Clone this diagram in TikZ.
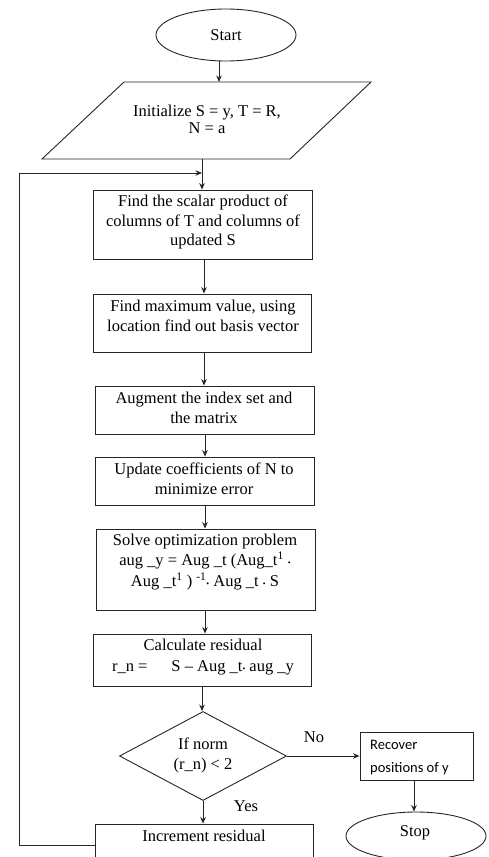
\documentclass[tikz,border=0pt]{standalone}
\usepackage{fontspec}
\setmainfont{Liberation Serif}
\newfontfamily\calfont{Carlito}
\usetikzlibrary{shapes.geometric,arrows.meta}
\tikzset{
  shp/.style={draw=black!85, line width=0.9pt, inner sep=0pt},
  boxn/.style={shp, rectangle},
  txt/.style={align=center, inner sep=0pt, font=\fontsize{16.5}{19.5}\selectfont},
  arr/.style={draw=black!85, line width=0.9pt, -{Stealth[length=6.5pt,width=5.5pt]}},
  ln/.style={draw=black!85, line width=0.9pt},
}
\newcommand{\mydot}{{\footnotesize\textbullet}}
\begin{document}
\begin{tikzpicture}[x=1pt,y=-1pt]
\useasboundingbox (0,0) rectangle (488,857);
\clip (0,0) rectangle (488,857);
\fill[white] (0,0) rectangle (488,857);

% Start
\node[shp, ellipse, minimum width=140pt, minimum height=52pt, font=\fontsize{16.5}{19.5}\selectfont] (start) at (226,35) {Start};

% Initialize parallelogram
\coordinate (p1) at (124,82);
\coordinate (p2) at (371,82);
\coordinate (p3) at (290,159);
\coordinate (p4) at (42,159);
\draw[ln] (p1) -- (p2) -- (p3) -- (p4) -- cycle;
\node[txt, font=\fontsize{16.5}{17}\selectfont] (init) at (207,119) {Initialize S = y, T = R,\\N = a};
\coordinate (initTop) at (219,82);
\coordinate (initBot) at (202,159);

% Boxes
\node[boxn, minimum width=219pt, minimum height=69pt] (b1) at (202.5,224.5) {};
\node[txt] (b1t) at (203,222) {Find the scalar product of\\columns of T and columns of\\updated S};

\node[boxn, minimum width=218pt, minimum height=58pt] (b2) at (202,323) {};
\node[txt] (b2t) at (203,316) {Find maximum value, using\\location find out basis vector};

\node[boxn, minimum width=219pt, minimum height=48pt] (b3) at (204.5,410) {};
\node[txt] (b3t) at (204,408) {Augment the index set and\\the matrix};

\node[boxn, minimum width=219pt, minimum height=48pt] (b4) at (204.5,481) {};
\node[txt] (b4t) at (204,479) {Update coefficients of N to\\minimize error};

\node[boxn, minimum width=219pt, minimum height=81pt] (b5) at (205.5,569.5) {};
\node[txt, font=\fontsize{16.5}{20.5}\selectfont] (b5t) at (205,562) {Solve optimization problem\\aug \_y = Aug \_t (Aug\_t\textsuperscript{1} \mydot\\Aug \_t\textsuperscript{1} ) \textsuperscript{-1}\mydot{} Aug \_t \mydot{} S};

\node[boxn, minimum width=218pt, minimum height=52pt] (b6) at (202,660) {};
\node[txt, font=\fontsize{16.5}{21}\selectfont] (b6t) at (203,657) {Calculate residual\\r\_n =\hspace{24pt}S -- Aug \_t\mydot{} aug \_y};

% Decision
\node[shp, diamond, minimum width=167pt, minimum height=89pt] (dia) at (203,756) {};
\node[txt, font=\fontsize{16.5}{20}\selectfont] (diat) at (203,755) {If norm\\(r\_n) < 2};

% Recover
\node[boxn, minimum width=113pt, minimum height=48pt] (rec) at (416.5,756) {};
\node[align=left, inner sep=0pt, anchor=west, font=\calfont\fontsize{14.5}{23}\selectfont] (rect) at (370,758) {Recover\\positions of y};

% Stop
\node[shp, ellipse, minimum width=140pt, minimum height=48pt] (stop) at (416,836) {};
\node[txt] (stopt) at (415,833) {Stop};

% Increment
\node[boxn, minimum width=218pt, minimum height=46pt] (inc) at (204,847) {};
\node[txt] (inct) at (204,836) {Increment residual};

% Labels
\node[txt] (no) at (314,737) {No};
\node[txt] (yes) at (246,806) {Yes};

% Connectors
\draw[arr] (start.south -| initTop) -- (initTop);
\draw[arr] (initBot) -- (initBot |- b1.north);
\draw[arr] (b1.south -| 204,0) -- (b2.north -| 204,0);
\draw[arr] (b2.south -| 204,0) -- (b3.north -| 204,0);
\draw[arr] (b3.south -| 205,0) -- (b4.north -| 205,0);
\draw[arr] (b4.south -| 205,0) -- (b5.north -| 205,0);
\draw[arr] (b5.south -| 205,0) -- (b6.north -| 205,0);
\draw[arr] (b6.south -| 202,0) -- (dia.north -| 202,0);
\draw[arr] (dia.south) -- (dia.south |- inc.north);
\draw[arr] (dia.east) -- (rec.west);
\draw[arr] (rec.south -| 414,0) -- (stop.north -| 414,0);
\coordinate (lb) at (19,845);
\coordinate (lt) at (19,173);
\coordinate (lj) at (202,173);
\draw[arr] (inc.west |- lb) -- (lb) -- (lt) -- (lj);
\end{tikzpicture}
\end{document}
